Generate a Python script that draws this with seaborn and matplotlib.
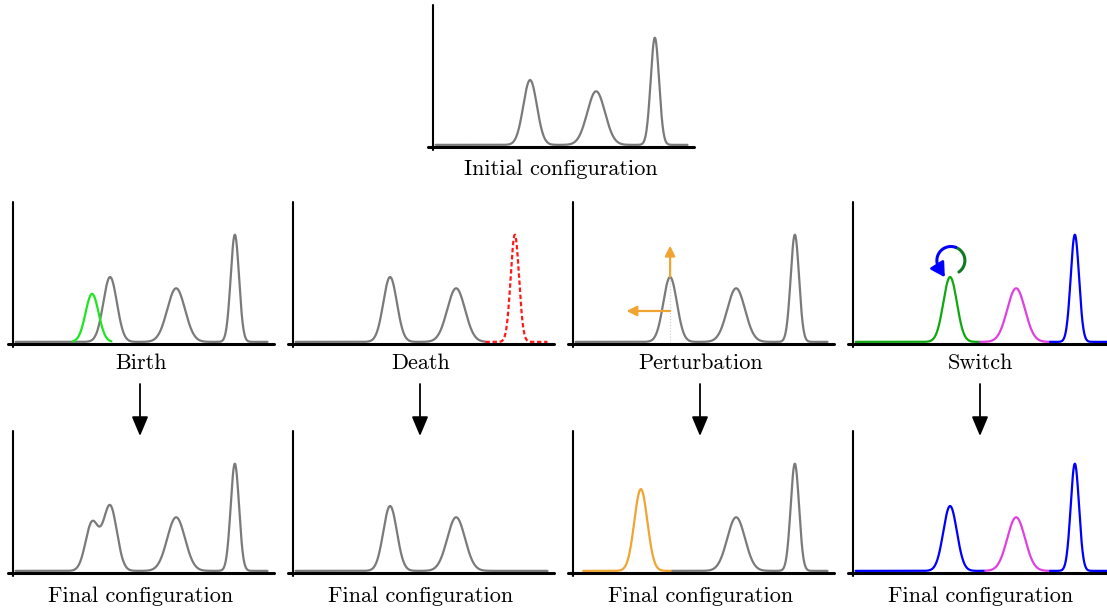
import numpy as np
import matplotlib
matplotlib.use("Agg")
import matplotlib.pyplot as plt
from matplotlib.patches import FancyArrowPatch
import seaborn as sns

# mixture components (means, sds, peak heights as fraction of axis height)
means = [3.72, 6.25, 8.5]
sds = [0.26, 0.34, 0.16]
heights = [0.46, 0.38, 0.76]

# new component proposed in the birth move
birth_mean, birth_sd, birth_height = 3.03, 0.25, 0.34
# component 1 after perturbation
pert_mean, pert_sd, pert_height = 2.6, 0.25, 0.58

# where the coloured segments of the curves change
death_cut = 7.36
switch_cuts = [4.87, 7.55]
final_switch_cuts = [5.06, 7.55]
pert_start, pert_cut = 0.38, 3.8

titles_mid = ["Birth", "Death", "Perturbation", "Switch"]
title_top = "Initial configuration"
title_bottom = "Final configuration"

GRAY = "#7a7a7a"
W, H = 1107, 610
PX_X = 26.1  # pixels per x unit
PX_Y = 141.0  # pixels per y unit
XMIN, XMAX = -0.2, 10.0

sns.set_theme(style="white")
plt.rcParams["font.family"] = ["cmr10", "DejaVu Serif"]
plt.rcParams["axes.formatter.use_mathtext"] = True
plt.rcParams["text.color"] = "black"

grid = np.linspace(0.1, 9.75, 800)


def gauss(x, m, s, h):
    return h * np.exp(-0.5 * ((x - m) / s) ** 2)


def mixture(x, idx, extra=None):
    y = np.zeros_like(x)
    for i in idx:
        y += gauss(x, means[i], sds[i], heights[i])
    if extra is not None:
        y += gauss(x, *extra)
    return y + 0.008


def make_panel(fig, yaxis_px, baseline_px, label, label_off):
    left = yaxis_px + XMIN * PX_X
    ax = fig.add_axes([left / W, (H - baseline_px) / H, (XMAX - XMIN) * PX_X / W, PX_Y / H])
    ax.set_xlim(XMIN, XMAX)
    ax.set_ylim(0, 1)
    ax.axis("off")
    ax.plot([XMIN, XMAX], [-0.005, -0.005], color="black", lw=2.2, clip_on=False, zorder=1)
    ax.plot([0, 0], [-0.025, 1.0], color="black", lw=1.5, clip_on=False, zorder=1)
    ax.text(0.5 * (XMIN + XMAX), -label_off / PX_Y, label, ha="center", va="baseline",
            fontsize=16, color="black")
    return ax


def seg(ax, lo, hi, y_func, color, **kw):
    x = grid[(grid >= lo) & (grid <= hi)]
    sns.lineplot(x=x, y=y_func(x), ax=ax, color=color, lw=1.6, zorder=3, **kw)


def px(cx, cy, dx, dy):
    # offset in pixels -> data coords
    return cx + dx / PX_X, cy + dy / PX_Y


fig = plt.figure(figsize=(W / 100, H / 100), dpi=100)

# initial configuration
ax = make_panel(fig, 433, 146, title_top, 29)
seg(ax, 0.1, 9.75, lambda x: mixture(x, [0, 1, 2]), GRAY)

cols = [13, 293, 573, 853]
mid_axes = [make_panel(fig, c, 343, t, 26) for c, t in zip(cols, titles_mid)]
fin_axes = [make_panel(fig, c, 572, title_bottom, 30) for c in cols]

# Birth
ax = mid_axes[0]
seg(ax, 0.1, 9.75, lambda x: mixture(x, [0, 1, 2]), GRAY)
bx = grid[(grid > birth_mean - 0.75) & (grid < birth_mean + 0.75)]
sns.lineplot(x=bx, y=gauss(bx, birth_mean, birth_sd, birth_height) + 0.008, ax=ax,
             color="#1ee61e", lw=1.6, zorder=4)
ax = fin_axes[0]
seg(ax, 0.1, 9.75, lambda x: mixture(x, [0, 1, 2], (birth_mean, birth_sd, birth_height)), GRAY)

# Death
ax = mid_axes[1]
seg(ax, 0.1, death_cut, lambda x: mixture(x, [0, 1]), GRAY)
seg(ax, death_cut, 9.75, lambda x: mixture(x, [2]), "#ff1a1a", linestyle=(0, (2, 1.2)))
ax = fin_axes[1]
seg(ax, 0.1, 9.75, lambda x: mixture(x, [0, 1]), GRAY)

# Perturbation
ax = mid_axes[2]
seg(ax, 0.1, 9.75, lambda x: mixture(x, [0, 1, 2]), GRAY)
ORANGE = "#f0a532"
ax.plot([means[0], means[0]], [0, heights[0]], color="#cccccc", lw=0.8, ls=":", zorder=2)
ax.annotate("", xy=(means[0], 0.69), xytext=(means[0], heights[0] + 0.01),
            arrowprops=dict(arrowstyle="-|>,head_length=0.5,head_width=0.25", color=ORANGE, lw=1.6,
                            shrinkA=0, shrinkB=0))
ax.annotate("", xy=(2.05, 0.227), xytext=(means[0], 0.227),
            arrowprops=dict(arrowstyle="-|>,head_length=0.5,head_width=0.25", color=ORANGE, lw=1.6,
                            shrinkA=0, shrinkB=0))
ax = fin_axes[2]
seg(ax, pert_start, pert_cut, lambda x: gauss(x, pert_mean, pert_sd, pert_height) + 0.008, ORANGE)
seg(ax, pert_cut, 9.75, lambda x: mixture(x, [1, 2]), GRAY)

# Switch
GREEN, MAGENTA, BLUE = "#10a810", "#e040e0", "#0000ff"
ax = mid_axes[3]
seg(ax, 0.0, switch_cuts[0], lambda x: mixture(x, [0, 1, 2]), GREEN)
seg(ax, switch_cuts[0], switch_cuts[1], lambda x: mixture(x, [0, 1, 2]), MAGENTA)
seg(ax, switch_cuts[1], 9.75, lambda x: mixture(x, [0, 1, 2]), BLUE)
# loop arrow over the switched component
cx, cy = means[0] + 0.03, 0.585
r = 14.0
t1 = np.radians(np.linspace(-55, 70, 60))
t2 = np.radians(np.linspace(70, 212, 60))
ax.plot(*px(cx, cy, r * np.cos(t1), r * np.sin(t1)), color="#107a20", lw=2.2, zorder=5)
ax.plot(*px(cx, cy, r * np.cos(t2), r * np.sin(t2)), color=BLUE, lw=2.2, zorder=5)
ts = np.radians(212)
sx, sy = r * np.cos(ts), r * np.sin(ts)
tx, ty = -np.sin(ts), np.cos(ts)
ax.annotate("", xy=px(cx, cy, sx + 11 * tx, sy + 11 * ty), xytext=px(cx, cy, sx, sy),
            arrowprops=dict(arrowstyle="-|>,head_length=0.7,head_width=0.4", color=BLUE, lw=2,
                            shrinkA=0, shrinkB=0))
ax = fin_axes[3]
seg(ax, 0.0, final_switch_cuts[0], lambda x: mixture(x, [0, 1, 2]), BLUE)
seg(ax, final_switch_cuts[0], final_switch_cuts[1], lambda x: mixture(x, [0, 1, 2]), MAGENTA)
seg(ax, final_switch_cuts[1], 9.75, lambda x: mixture(x, [0, 1, 2]), BLUE)

# arrows from the moves to the final configurations
for c in cols:
    x = (c + 127) / W
    arr = FancyArrowPatch((x, (H - 384) / H), (x, (H - 436) / H), transform=fig.transFigure,
                          arrowstyle="-|>,head_length=0.85,head_width=0.36", mutation_scale=14,
                          color="black", lw=1.3, shrinkA=0, shrinkB=0)
    fig.add_artist(arr)

fig.savefig("out.png", dpi=100)
